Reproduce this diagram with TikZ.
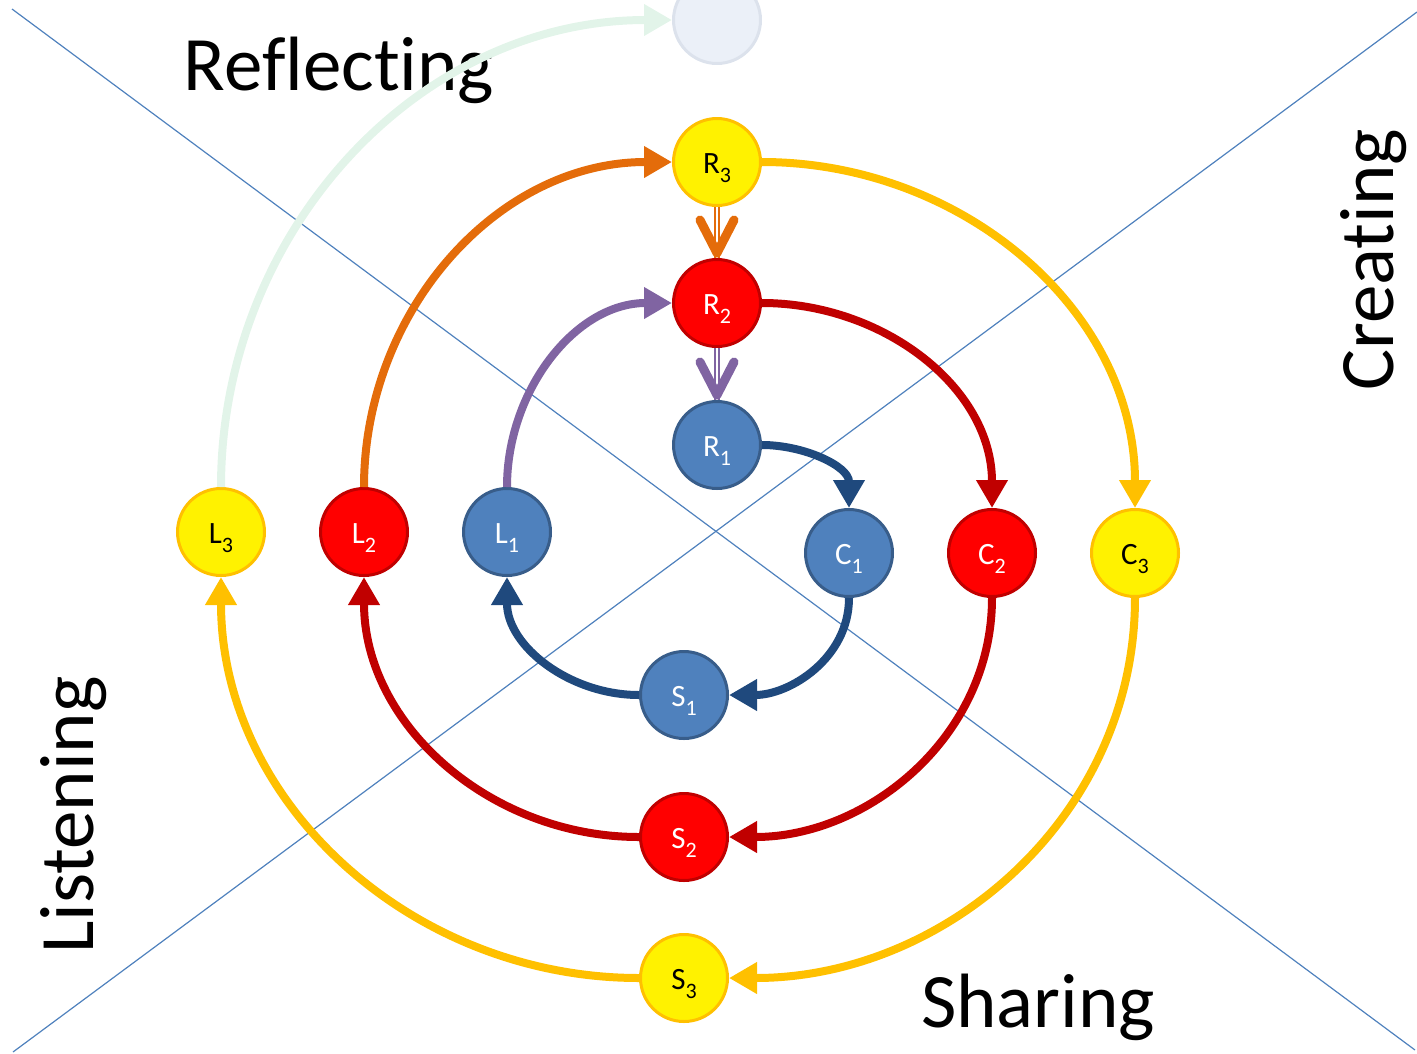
\documentclass[tikz,border=0pt]{standalone}
\usepackage{fontspec}
\setmainfont{Carlito}[Ligatures=NoCommon, Contextuals=NoAlternate]
\usetikzlibrary{arrows.meta}

\definecolor{gold}{HTML}{FFC000}
\definecolor{darkred}{HTML}{C00000}
\definecolor{steel}{HTML}{4F81BD}
\definecolor{steelline}{HTML}{385D8A}
\definecolor{deepblue}{HTML}{1F497D}
\definecolor{pumpkin}{HTML}{E46C0A}
\definecolor{lilac}{HTML}{8064A2}
\definecolor{mint}{HTML}{E2F4E9}
\definecolor{ghostfill}{HTML}{EBF0F8}
\definecolor{ghostline}{HTML}{DCE2EC}

% stage label with a lowered index
\newcommand{\stg}[2]{#1\raisebox{-9pt}{\fontsize{22}{22}\selectfont #2}}

\tikzset{
  stage/.style={circle, minimum size=87pt, inner sep=0pt, line width=3pt,
                text height=22pt, text depth=0pt,
                font=\fontsize{31}{31}\selectfont},
  lvlthree/.style={stage, fill=yellow, draw=gold, text=black},
  lvltwo/.style={stage, fill=red, draw=darkred, text=white},
  lvlone/.style={stage, fill=steel, draw=steelline, text=white},
  ghost/.style={stage, fill=ghostfill, draw=ghostline},
  flow/.style={line width=8pt, -{Triangle[length=28pt, width=30pt]}},
  dblshaft/.style={draw=#1, line width=2pt, double=white, double distance=2pt},
  vhead/.style={draw=#1, line width=9pt, line cap=round, line join=round},
  phase/.style={font=\fontsize{77}{77}\selectfont, anchor=base},
}

\begin{document}
\begin{tikzpicture}[x=1pt, y=1pt]
  \useasboundingbox (0,0) rectangle (1417,-1053);
  % quadrant lines
  \coordinate (nw) at (12,-9);
  \coordinate (se) at (1415,-1050);
  \coordinate (sw) at (13,-1052);
  \coordinate (ne) at (1417,-12);
  \draw[steel, line width=1.2pt] (nw) -- (se);
  \draw[steel, line width=1.2pt] (sw) -- (ne);
  % phase labels
  \node[phase] (refl) at (339,-90) {Reflect\kern0pt ing};
  \node[phase, rotate=90] (crea) at (1393,-260) {Creat\kern0pt ing};
  \node[phase, rotate=90] (list) at (93,-815) {Listening};
  \node[phase] (shar) at (1038,-1027) {Sharing};
  % stages
  \node[ghost] (next) at (717,-20) {};
  \foreach \l/\x/\y in {R/717/162, C/1135/553, S/684/978, L/221/532}
    \node[lvlthree] (\l3) at (\x,-\y) {\stg{\l}{3}};
  \foreach \l/\x/\y in {R/717/303, C/992/553, S/684/837, L/364/532}
    \node[lvltwo] (\l2) at (\x,-\y) {\stg{\l}{2}};
  \foreach \l/\x/\y in {R/717/445, C/849/553, S/684/695, L/507/532}
    \node[lvlone] (\l1) at (\x,-\y) {\stg{\l}{1}};
  % outer cycle
  \draw[flow, gold] (R3) to[out=0, in=90] (C3);
  \draw[flow, gold] (C3) to[out=-90, in=0] (S3);
  \draw[flow, gold] (S3) to[out=180, in=-90] (L3);
  \draw[flow, mint] (L3) to[out=90, in=180] (next);
  % middle cycle
  \draw[flow, pumpkin] (L2) to[out=90, in=180] (R3);
  \draw[dblshaft=pumpkin] (R3) -- (R2);
  \draw[vhead=pumpkin] ([shift={(-17,38)}]R2.north) -- ([yshift=5pt]R2.north)
    -- ([shift={(17,38)}]R2.north);
  \draw[flow, darkred] (R2) to[out=0, in=90] (C2);
  \draw[flow, darkred] (C2) to[out=-90, in=0] (S2);
  \draw[flow, darkred] (S2) to[out=180, in=-90] (L2);
  % inner cycle
  \draw[flow, lilac] (L1) to[out=90, in=180] (R2);
  \draw[dblshaft=lilac] (R2) -- (R1);
  \draw[vhead=lilac] ([shift={(-17,38)}]R1.north) -- ([yshift=5pt]R1.north)
    -- ([shift={(17,38)}]R1.north);
  \draw[flow, deepblue] (R1) to[out=0, in=90] (C1);
  \draw[flow, deepblue] (C1) to[out=-90, in=0] (S1);
  \draw[flow, deepblue] (S1) to[out=180, in=-90] (L1);
\end{tikzpicture}
\end{document}
